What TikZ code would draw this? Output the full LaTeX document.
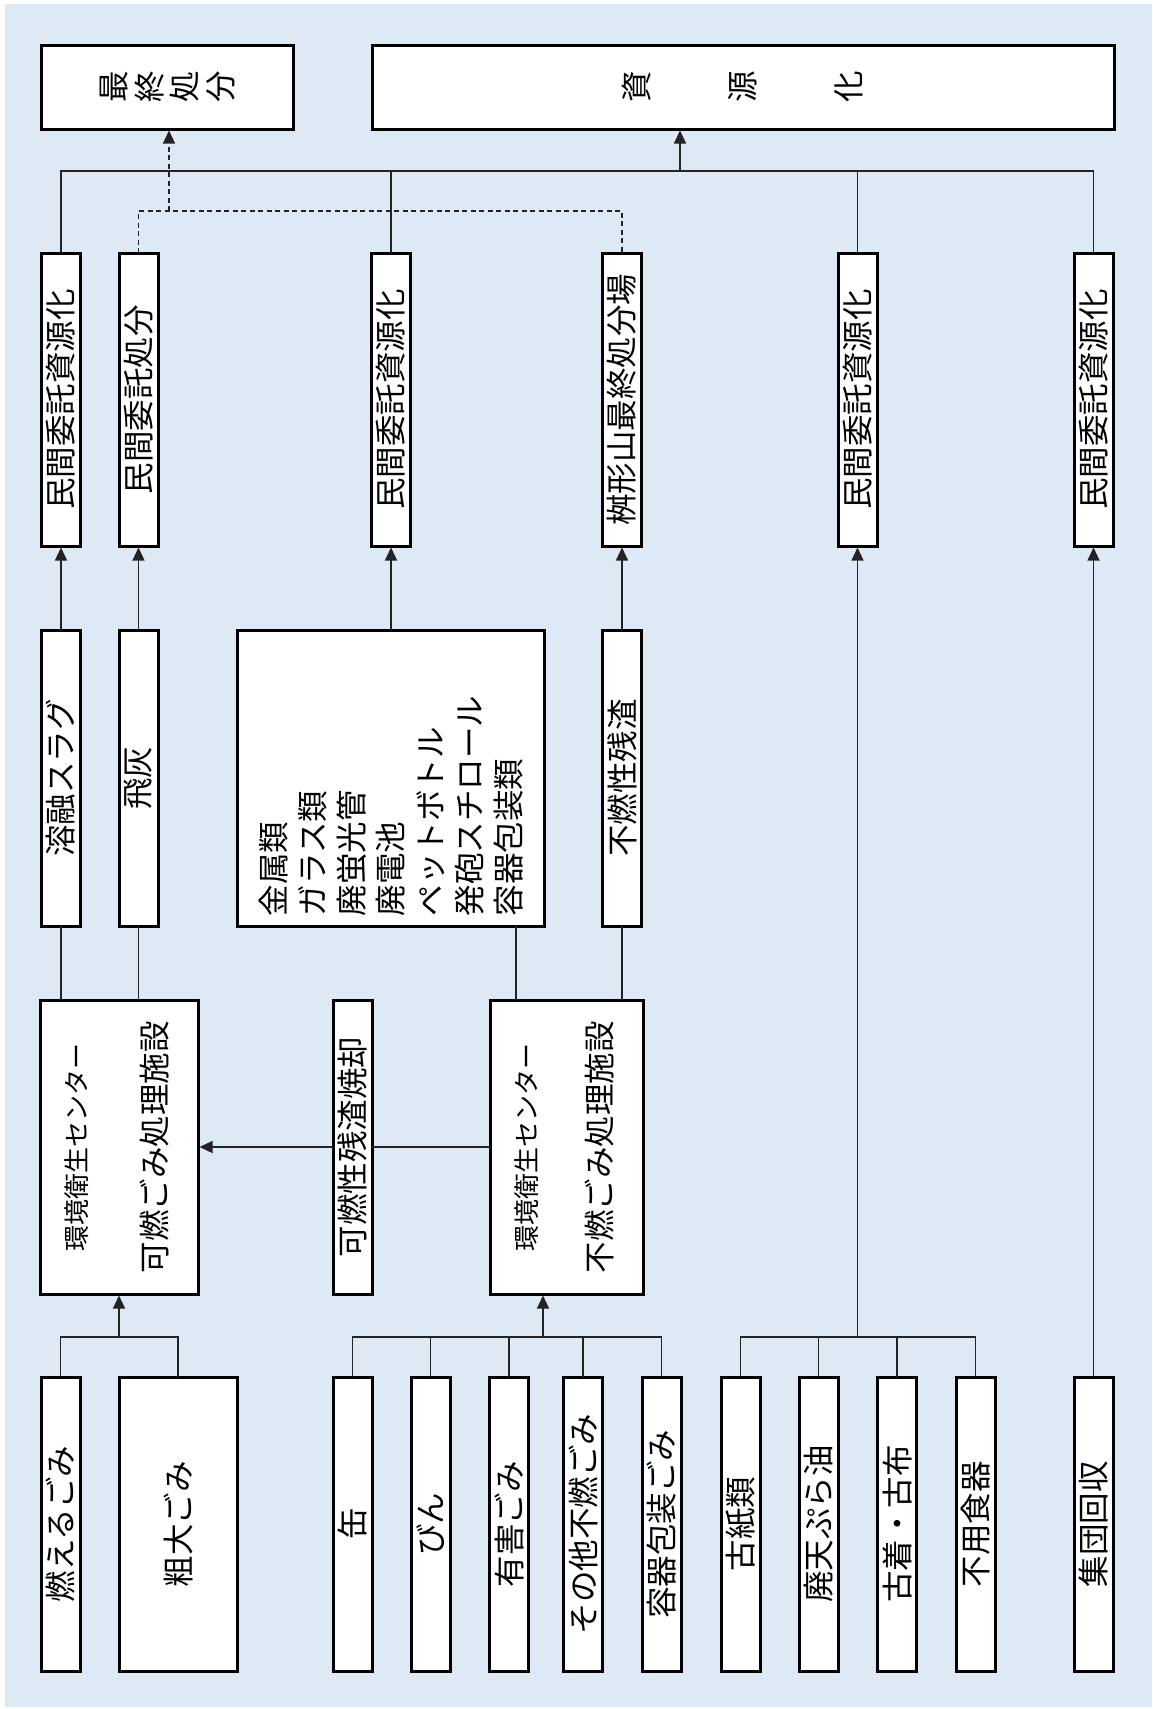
\documentclass[tikz,border=0pt]{standalone}
\usepackage{fontspec}
\usepackage{graphicx}
\setmainfont{Noto Sans CJK JP}
\usetikzlibrary{arrows.meta}
\definecolor{bgblue}{RGB}{221,234,246}
\definecolor{lnk}{RGB}{35,35,35}
\newcommand\fb{\fontsize{31.5}{37}\selectfont}
\newcommand\fsm{\fontsize{26}{30}\selectfont}
\newcommand\rg[1]{\rotatebox{90}{#1}}
\newcommand\rc[1]{\rotatebox{90}{\raisebox{0pt}[0.88em][0.12em]{#1}}}
\begin{document}
\begin{tikzpicture}[x=1pt,y=-1pt,
  box/.style={draw=black, line width=3pt, fill=white, inner sep=0pt, outer sep=0pt, font=\fb},
  tall/.style={box, minimum width=39pt, minimum height=294pt},
  link/.style={draw=lnk, line width=1.2pt},
  arr/.style={link, -{Triangle[length=13pt,width=12pt]}, shorten >=1.5pt},
  dlink/.style={link, dash pattern=on 5pt off 3.5pt}]
\useasboundingbox (0,0) rectangle (1152,1709);
\fill[bgblue] (5,4) rectangle (1152,1707);

% top boxes
\node[box, minimum width=252pt, minimum height=84pt] (final) at (167,87)
  {\rc{最}\hspace{4pt}\rc{終}\hspace{4pt}\rc{処}\hspace{4pt}\rc{分}};
\node[box, minimum width=742pt, minimum height=84pt] (sigen) at (743,87)
  {\rc{資}\hspace{74.5pt}\rc{源}\hspace{74.5pt}\rc{化}};

% row 2
\node[tall, minimum height=293pt] (m1)   at (61,399.5)   {\rg{民間委託資源化}};
\node[tall, minimum height=293pt] (m2)   at (138.5,399.5) {\rg{民間委託処分}};
\node[tall, minimum height=293pt] (m3)   at (391,399.5)  {\rg{民間委託資源化}};
\node[tall, minimum height=293pt] (masu) at (622,399.5)  {\rg{桝形山最終処分場}};
\node[tall, minimum height=293pt] (m5)   at (857.5,399.5) {\rg{民間委託資源化}};
\node[tall, minimum height=293pt] (m6)   at (1093.5,399.5) {\rg{民間委託資源化}};

% row 3
\node[tall, minimum height=296pt] (slag) at (61,778) {\rg{溶融スラグ}};
\node[tall, minimum height=296pt] (ash)  at (138.5,778) {\rg{飛灰}};
\node[box, minimum width=307pt, minimum height=296pt] (list) at (391,778)
  {\rg{\begin{minipage}{276pt}\fontsize{31.5}{39.3}\selectfont
   金属類\\ガラス類\\廃蛍光管\\廃電池\\ペットボトル\\発砲スチロール\\容器包装類\end{minipage}}};
\node[tall, minimum height=296pt] (residue) at (622,778) {\rg{不燃性残渣}};

% row 4
\node[box, minimum width=158pt, minimum height=294pt] (kanen) at (119,1147)
  {\rg{\fb\begin{tabular}{@{}c@{}}{\fsm 環境衛生センター}\\[42pt]可燃ごみ処理施設\end{tabular}}};
\node[tall] (shokyaku) at (352.5,1147) {\rg{可燃性残渣焼却}};
\node[box, minimum width=153pt, minimum height=294pt] (funen) at (566.5,1147)
  {\rg{\fb\begin{tabular}{@{}c@{}}{\fsm 環境衛生センター}\\[38pt]不燃ごみ処理施設\end{tabular}}};

% row 5
\node[tall] (moeru)   at (60.5,1524)  {\rg{燃えるごみ}};
\node[box, minimum width=118pt, minimum height=294pt] (sodai) at (178,1524) {\rg{粗大ごみ}};
\node[tall] (kan)     at (352.5,1524) {\rg{缶}};
\node[tall] (bin)     at (430.5,1524) {\rg{びん}};
\node[tall] (yugai)   at (509,1524)   {\rg{有害ごみ}};
\node[tall] (sonota)  at (583,1524)   {\rg{その他不燃ごみ}};
\node[tall] (youki)   at (661.5,1524) {\rg{容器包装ごみ}};
\node[tall] (koshi)   at (740.5,1524) {\rg{古紙類}};
\node[tall] (tenpura) at (818.5,1524) {\rg{廃天ぷら油}};
\node[tall] (furugi)  at (897,1524)   {\rg{古着・古布}};
\node[tall] (shokki)  at (975.5,1524) {\rg{不用食器}};
\node[tall] (shudan)  at (1093.5,1524) {\rg{集団回収}};

% coordinates
\coordinate (hbar) at (0,171);
\coordinate (dbar) at (0,211);
\coordinate (bbar) at (0,1337);
\coordinate (jS) at (680,171);
\coordinate (jF) at (169,211);
\coordinate (jB) at (543,1337);
\coordinate (lx) at (516,0);

% top connectors
\draw[link] (m1.north) |- (m6.north |- hbar) -- (m6.north);
\draw[link] (m3.north) -- (m3.north |- hbar);
\draw[link] (m5.north) -- (m5.north |- hbar);
\draw[arr] (jS) -- (jS |- sigen.south);
\draw[dlink] (m2.north) |- (masu.north |- dbar) -- (masu.north);
\draw[dlink, -{Triangle[length=13pt,width=12pt]}, shorten >=1.5pt] (jF) -- (jF |- final.south);

% row 3 -> row 2
\draw[arr] (slag.north) -- (m1.south);
\draw[arr] (ash.north) -- (m2.south);
\draw[arr] (list.north) -- (m3.south);
\draw[arr] (residue.north) -- (masu.south);

% row 4 -> row 3
\draw[link] (slag.south) -- (slag.south |- kanen.north);
\draw[link] (ash.south) -- (ash.south |- kanen.north);
\draw[link] (lx |- list.south) -- (lx |- funen.north);
\draw[link] (residue.south) -- (residue.south |- funen.north);
\draw[link] (funen.west) -- (shokyaku.east);
\draw[arr] (shokyaku.west) -- (kanen.east);

% row 5 -> row 4 / row 2
\draw[link] (moeru.north) |- (sodai.north |- bbar) -- (sodai.north);
\draw[arr] (kanen.south |- bbar) -- (kanen.south);
\draw[link] (kan.north) |- (youki.north |- bbar) -- (youki.north);
\draw[link] (bin.north) -- (bin.north |- bbar);
\draw[link] (yugai.north) -- (yugai.north |- bbar);
\draw[link] (sonota.north) -- (sonota.north |- bbar);
\draw[arr] (jB) -- (jB |- funen.south);
\draw[link] (koshi.north) |- (shokki.north |- bbar) -- (shokki.north);
\draw[link] (tenpura.north) -- (tenpura.north |- bbar);
\draw[link] (furugi.north) -- (furugi.north |- bbar);
\draw[arr] (m5.south |- bbar) -- (m5.south);
\draw[arr] (shudan.north) -- (m6.south);
\end{tikzpicture}
\end{document}
